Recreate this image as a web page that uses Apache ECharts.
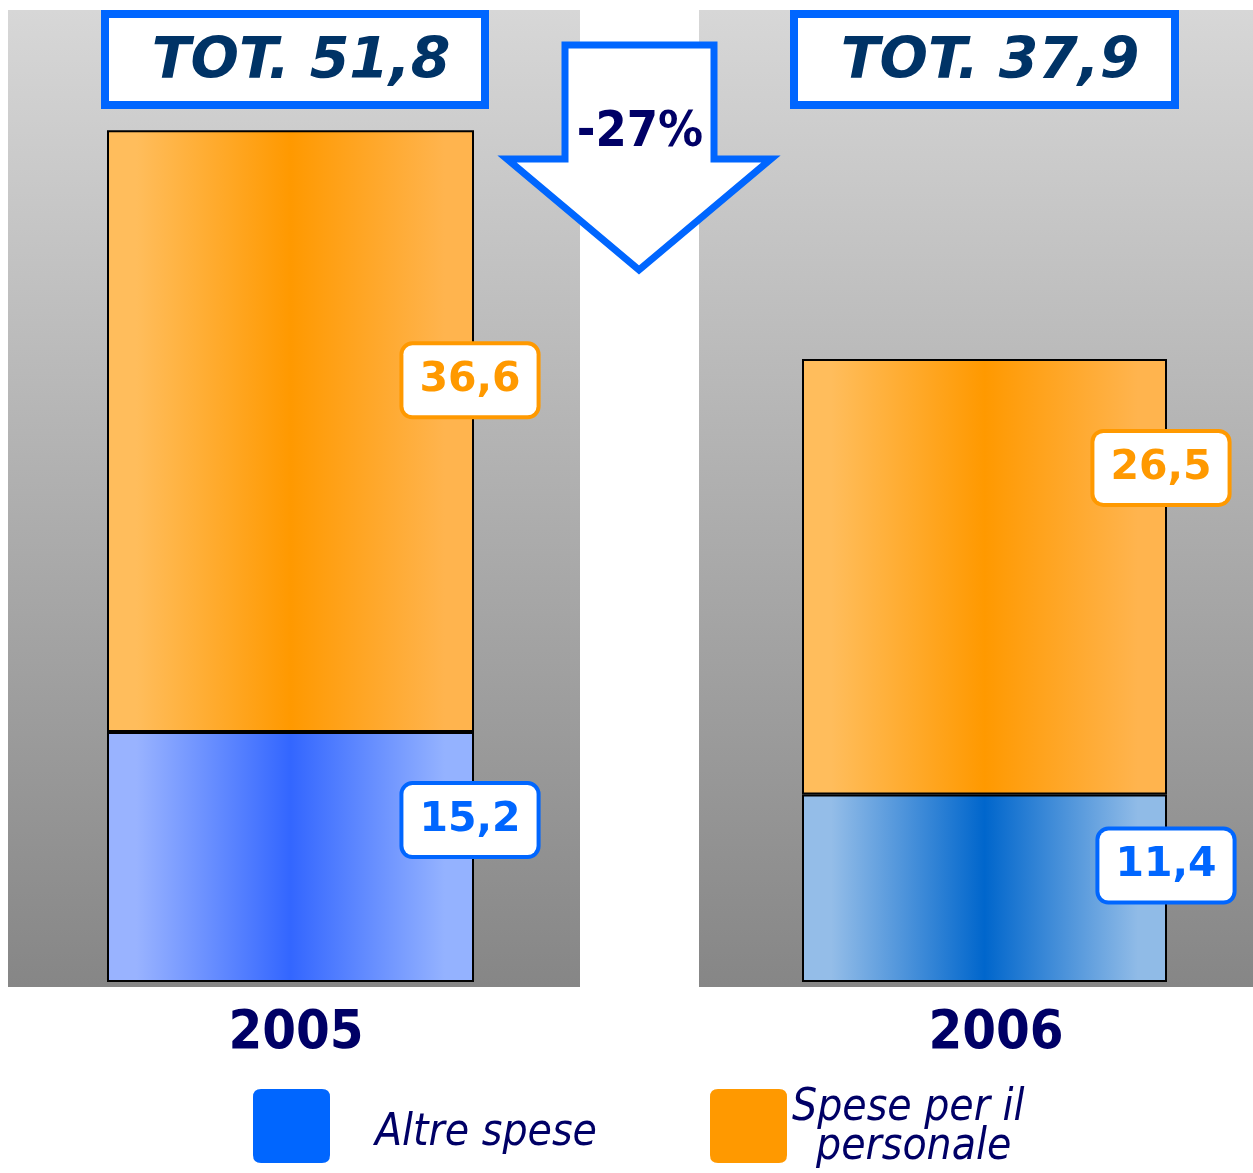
<!DOCTYPE html>
<html lang="it">
<head>
    <meta charset="UTF-8">
    <title>Spese</title>
    <style>
        html, body { margin: 0; padding: 0; background: #fff; }
        #container { width: 1253px; height: 1173px; }
    </style>
</head>
<body>
<div id="container"></div>
<script src="https://cdn.jsdelivr.net/npm/echarts@6/dist/echarts.min.js"></script>
<script type="text/javascript">
    // dati
    var anni = ['2005', '2006'];
    var altreSpese = [15.2, 11.4];
    var spesePersonale = [36.6, 26.5];
    var nomiSerie = ['Altre spese', 'Spese per il personale'];

    var FONT = '"DejaVu Sans Condensed", "DejaVu Sans", sans-serif';
    var FONT_LARGO = '"DejaVu Sans", sans-serif';

    function virgola(v) {
        return v.toFixed(1).replace('.', ',');
    }

    var totali = anni.map(function (a, i) { return altreSpese[i] + spesePersonale[i]; });
    var variazione = Math.round((totali[1] / totali[0] - 1) * 100) + '%';

    // posizione delle etichette rispetto al rettangolo della barra
    var posAltre = [[363, 88], [364, 71]];
    var posPersonale = [[363, 250], [359, 109]];

    function grad(edge, mid, edge2) {
        return new echarts.graphic.LinearGradient(0, 0, 1, 0, [
            {offset: 0, color: edge},
            {offset: 0.08, color: edge},
            {offset: 0.5, color: mid},
            {offset: 0.92, color: edge2},
            {offset: 1, color: edge2}
        ]);
    }
    var coloriAltre = [grad('#99b3ff', '#3366ff', '#94b2ff'), grad('#94bde8', '#0066cc', '#90bbe7')];
    var coloreArancio = grad('#ffbd5c', '#ff9900', '#ffb44e');

    function etichetta(pos, colore) {
        return {
            show: true,
            position: pos,
            align: 'center',
            verticalAlign: 'middle',
            formatter: function (p) { return virgola(p.value); },
            fontFamily: FONT_LARGO,
            fontSize: 41,
            fontWeight: 'bold',
            color: colore,
            lineHeight: 50,
            backgroundColor: '#fff',
            borderColor: colore,
            borderWidth: 4,
            borderRadius: 9,
            padding: [10, 16, 10, 16]
        };
    }

    var grids = [
        {left: 107, width: 367, top: 12, bottom: 191},
        {left: 802, width: 365, top: 12, bottom: 191}
    ];
    var xAxes = [], yAxes = [], series = [];
    var pad = [[0, 0, 0, 11], [0, 0, 0, 23]];
    anni.forEach(function (anno, i) {
        xAxes.push({
            type: 'category', gridIndex: i, data: [anno],
            axisLine: {show: false}, axisTick: {show: false},
            axisLabel: {
                margin: 52, verticalAlign: 'middle', padding: pad[i],
                fontFamily: FONT, fontSize: 54, fontWeight: 'bold', color: '#000066'
            }
        });
        yAxes.push({type: 'value', gridIndex: i, min: 0, max: 59, show: false});
        series.push({
            name: nomiSerie[0], type: 'bar', stack: 's' + i,
            xAxisIndex: i, yAxisIndex: i, barWidth: '100%',
            itemStyle: {color: coloriAltre[i], borderColor: '#000', borderWidth: 2},
            data: [{value: altreSpese[i], label: etichetta(posAltre[i], '#0066ff')}]
        });
        series.push({
            name: nomiSerie[1], type: 'bar', stack: 's' + i,
            xAxisIndex: i, yAxisIndex: i, barWidth: '100%',
            itemStyle: {color: coloreArancio, borderColor: '#000', borderWidth: 2},
            data: [{value: spesePersonale[i], label: etichetta(posPersonale[i], '#ff9900')}]
        });
    });

    var iconaQuadro = 'path://M8,0H69Q77,0 77,8V66Q77,74 69,74H8Q0,74 0,66V8Q0,0 8,0Z';
    var testoLegenda = {fontFamily: FONT, fontSize: 44, fontStyle: 'italic', color: '#000066', lineHeight: 43};

    var option = {
        animation: false,
        backgroundColor: '#fff',
        grid: grids,
        xAxis: xAxes,
        yAxis: yAxes,
        legend: [
            {
                left: 253, top: 1089, padding: 0,
                itemWidth: 77, itemHeight: 74, icon: iconaQuadro,
                data: [{name: nomiSerie[0], itemStyle: {color: '#0066ff', borderWidth: 0}}],
                formatter: function (n) { return '{a|' + n + '}'; },
                textStyle: {
                    fontFamily: FONT, fontSize: 44, fontStyle: 'italic', color: '#000066',
                    rich: {a: Object.assign({}, testoLegenda, {lineHeight: 45, padding: [16, 0, 0, 40]})}
                }
            },
            {
                left: 710, top: 1078, padding: 0,
                itemWidth: 77, itemHeight: 74, icon: iconaQuadro,
                data: [{name: nomiSerie[1], itemStyle: {color: '#ff9900', borderWidth: 0}}],
                formatter: function () { return '{a|Spese per il}\n{b|personale}'; },
                textStyle: {
                    fontFamily: FONT, fontSize: 44, fontStyle: 'italic', color: '#000066',
                    rich: {
                        a: Object.assign({}, testoLegenda, {padding: [9, 0, 0, 0]}),
                        b: Object.assign({}, testoLegenda, {padding: [0, 0, 0, 24]})
                    }
                }
            }
        ],
        graphic: [
            {
                type: 'rect', z: -10, shape: {x: 8, y: 10, width: 572, height: 977},
                style: {fill: new echarts.graphic.LinearGradient(0, 0, 0, 1, [{offset: 0, color: '#d7d7d7'}, {offset: 1, color: '#868686'}])}
            },
            {
                type: 'rect', z: -10, shape: {x: 699, y: 10, width: 554, height: 977},
                style: {fill: new echarts.graphic.LinearGradient(0, 0, 0, 1, [{offset: 0, color: '#d7d7d7'}, {offset: 1, color: '#868686'}])}
            },
            {
                type: 'rect', z: 10, shape: {x: 105, y: 14, width: 380, height: 91},
                style: {fill: '#fff', stroke: '#0066ff', lineWidth: 8}
            },
            {
                type: 'rect', z: 10, shape: {x: 794, y: 14, width: 381, height: 91},
                style: {fill: '#fff', stroke: '#0066ff', lineWidth: 8}
            },
            {
                type: 'text', z: 11, x: 301, y: 63,
                style: {
                    text: 'TOT. ' + virgola(totali[0]), fill: '#003366',
                    font: 'italic bold 57px ' + FONT_LARGO, align: 'center', verticalAlign: 'middle'
                }
            },
            {
                type: 'text', z: 11, x: 990, y: 63,
                style: {
                    text: 'TOT. ' + virgola(totali[1]), fill: '#003366',
                    font: 'italic bold 57px ' + FONT_LARGO, align: 'center', verticalAlign: 'middle'
                }
            },
            {
                type: 'polygon', z: 10,
                shape: {points: [[565, 45], [714, 45], [714, 159], [771, 159], [639, 270], [507, 159], [565, 159]]},
                style: {fill: '#fff', stroke: '#0066ff', lineWidth: 7, lineJoin: 'miter'}
            },
            {
                type: 'text', z: 11, x: 640, y: 133,
                style: {
                    text: variazione, fill: '#000066',
                    font: 'bold 50px ' + FONT, align: 'center', verticalAlign: 'middle'
                }
            }
        ],
        series: series
    };

    var chart = echarts.init(document.getElementById('container'));
    chart.setOption(option);
</script>
</body>
</html>
